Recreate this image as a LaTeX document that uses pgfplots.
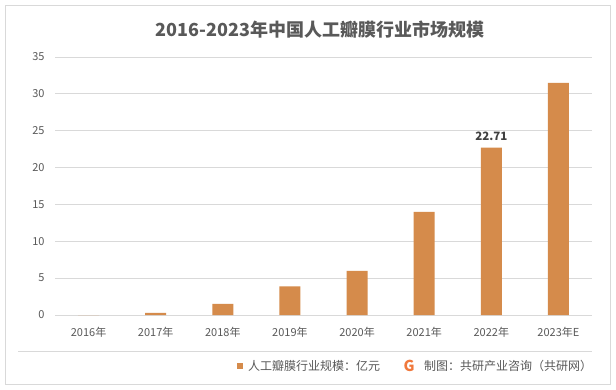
\documentclass[border=0pt]{standalone}
\usepackage{pgfplots}
\pgfplotsset{compat=1.18}
\usepackage{fontspec}
\setmainfont{Noto Sans CJK SC}
\definecolor{barc}{RGB}{213,139,75}
\definecolor{txt}{RGB}{89,89,89}
\definecolor{lbl}{RGB}{64,64,64}
\definecolor{gridc}{RGB}{217,217,217}
\definecolor{logoa}{RGB}{240,120,60}
\begin{document}
\begin{tikzpicture}[x=1pt,y=1pt]
\path[use as bounding box] (0,0) rectangle (616,389);
\fill[white] (0,0) rectangle (616,389);
\draw[gridc, line width=0.8pt] (5,5) rectangle (610,384);
\node[font=\fontsize{18}{21}\selectfont\bfseries, text=txt] at (320,359) {2016-2023年中国人工瓣膜行业市场规模};
\begin{axis}[
  at={(55pt,74pt)}, anchor=south west, scale only axis, width=537pt, height=258pt,
  xmin=-0.5, xmax=7.5, ymin=0, ymax=35, ytick={0,5,...,35},
  xtick={0,...,7},
  xticklabels={2016年,2017年,2018年,2019年,2020年,2021年,2022年,2023年E},
  ymajorgrids, grid style={gridc, line width=0.8pt},
  axis line style={draw=none}, major tick length=0pt,
  tick label style={font=\fontsize{11}{13}\selectfont, text=txt},
  yticklabel style={xshift=-7pt},
  xticklabel style={yshift=-9pt},
  /pgf/number format/assume math mode=true,
  clip=false,
]
\addplot[ybar, bar width=21pt, fill=barc, draw=none] coordinates {(0,0) (1,0.3) (2,1.5) (3,3.9) (4,6.0) (5,14.0) (6,22.71) (7,31.5)};
\addplot[draw=none, mark=none, nodes near coords, point meta=explicit symbolic,
  every node near coord/.style={anchor=south, yshift=3pt, font=\fontsize{11.5}{13}\selectfont\bfseries, text=lbl}]
  coordinates {(6,22.71) [22.71]};
\end{axis}
\draw[gridc, line width=0.8pt] (18,38) -- (592,38);
\fill[barc] (237,20) rectangle (243,26);
\node[anchor=west, inner sep=0pt, font=\fontsize{12}{14}\selectfont, text=txt] at (248,23) {人工瓣膜行业规模：亿元};
\node[font=\fontsize{15}{16}\selectfont\bfseries, text=logoa, inner sep=0pt] at (409,23) {G};
\node[anchor=west, inner sep=0pt, font=\fontsize{12}{14}\selectfont, text=txt] at (424,23) {制图：共研产业咨询（共研网）};
\end{tikzpicture}
\end{document}
